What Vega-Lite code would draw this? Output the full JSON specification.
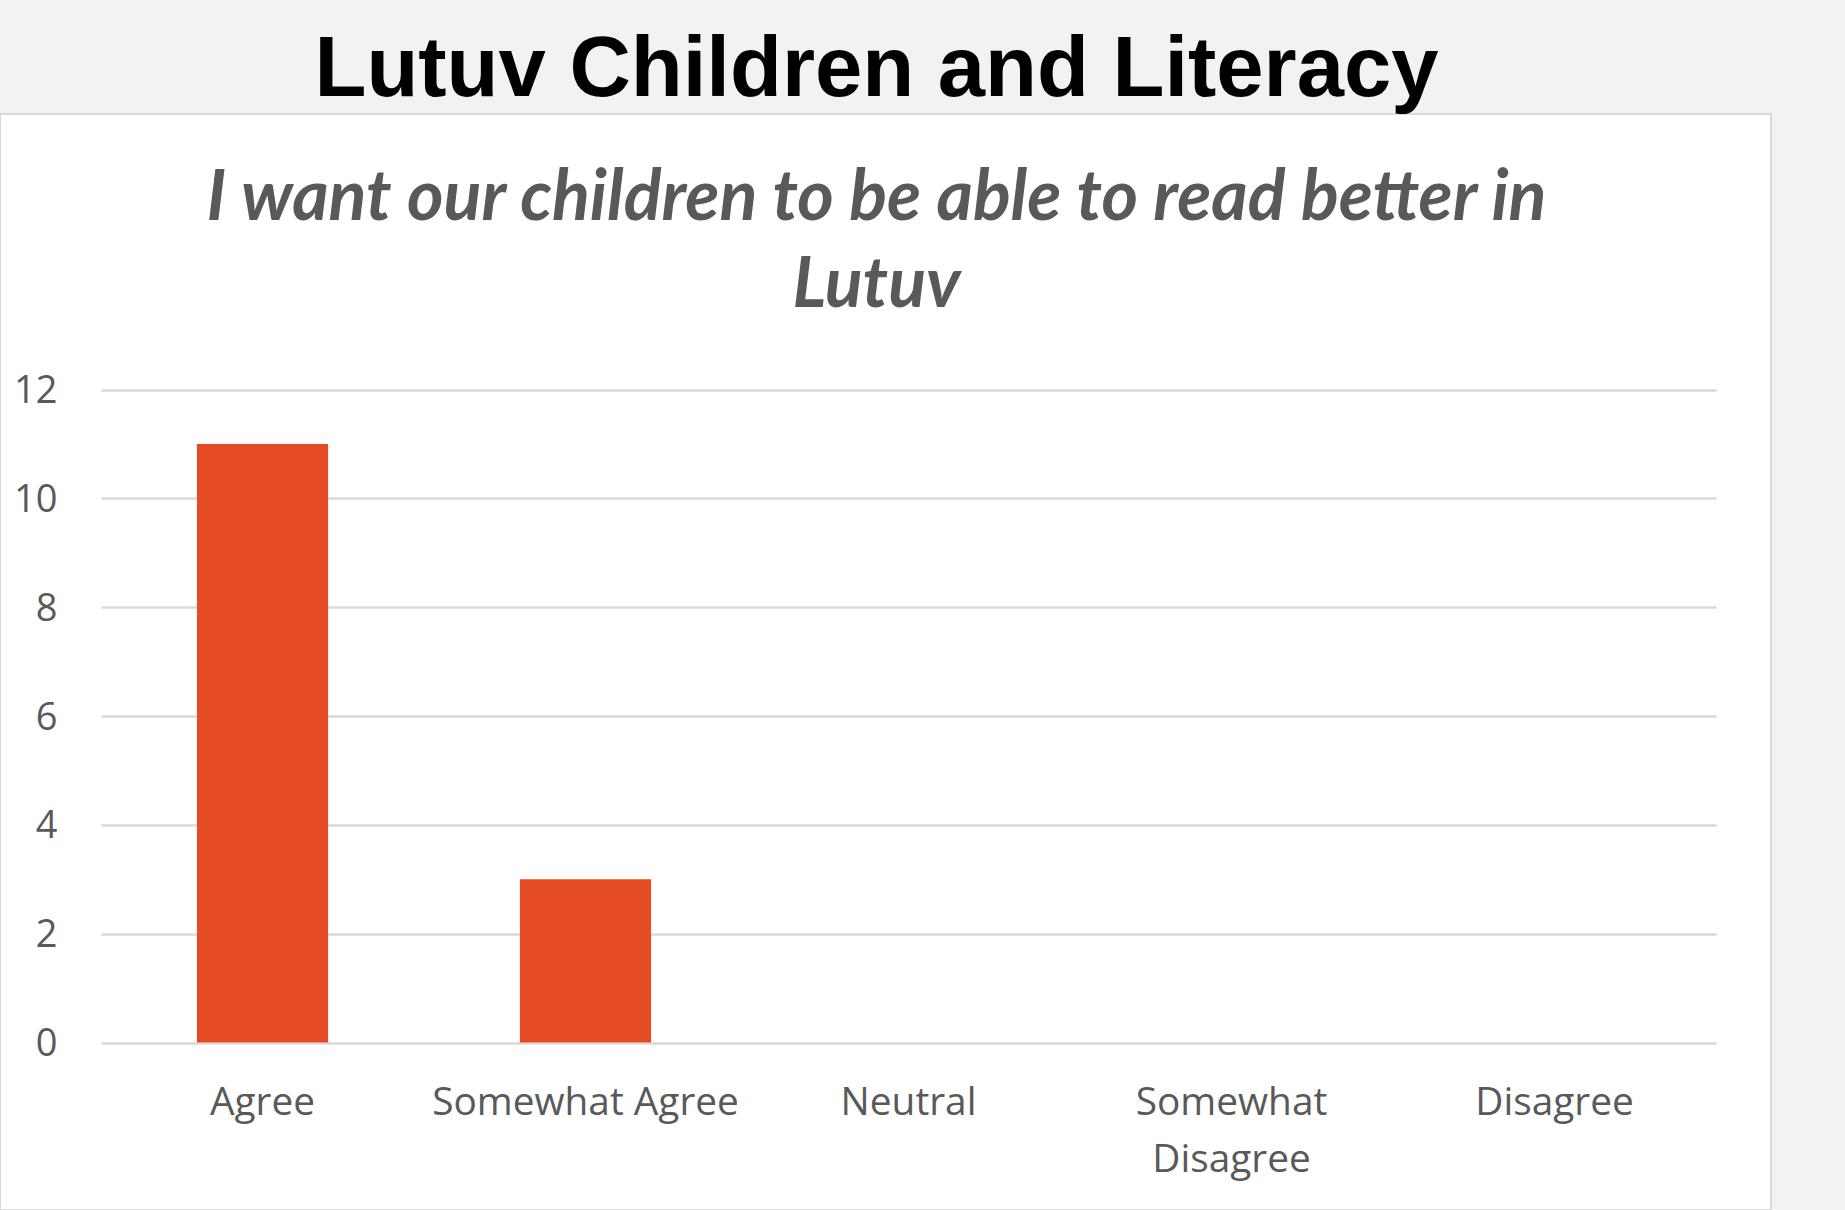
{
  "$schema": "https://vega.github.io/schema/vega-lite/v6.json",
  "autosize": {"type": "none"},
  "padding": {"top": 114, "left": 0, "right": 74, "bottom": 0},
  "width": 1771,
  "height": 1096,
  "background": "#f2f2f2",
  "view": {"fill": "#ffffff", "stroke": "#d9d9d9", "strokeWidth": 2},
  "title": {
    "text": "Lutuv Children and Literacy",
    "subtitle": ["I want our children to be able to read better in", "Lutuv"],
    "anchor": "middle",
    "frame": "group",
    "offset": -208,
    "dx": -9,
    "font": "Liberation Sans",
    "fontSize": 85,
    "fontWeight": "bold",
    "color": "#000000",
    "subtitleFont": "Lato",
    "subtitleFontSize": 70,
    "subtitleFontWeight": "bold",
    "subtitleFontStyle": "italic",
    "subtitleColor": "#595959",
    "subtitleLineHeight": 87,
    "subtitlePadding": 51
  },
  "data": {
    "values": [
      {"response": "Agree", "count": 11},
      {"response": "Somewhat Agree", "count": 3},
      {"response": "Neutral", "count": 0},
      {"response": "Somewhat Disagree", "count": 0},
      {"response": "Disagree", "count": 0}
    ]
  },
  "mark": {"type": "bar", "color": "#E64C24"},
  "encoding": {
    "x": {
      "field": "response",
      "type": "nominal",
      "sort": null,
      "scale": {"range": [101, 1716], "paddingInner": 0.594, "paddingOuter": 0.297},
      "axis": {
        "title": null,
        "orient": "bottom",
        "offset": -167.5,
        "domain": false,
        "ticks": false,
        "grid": false,
        "labelAngle": 0,
        "labelFont": "Open Sans",
        "labelFontSize": 38.8,
        "labelColor": "#595959",
        "labelPadding": 41,
        "labelBaseline": "top",
        "labelLineHeight": 56.5,
        "labelLimit": 500,
        "labelExpr": "datum.label == 'Somewhat Disagree' ? ['Somewhat', 'Disagree'] : datum.label"
      }
    },
    "y": {
      "field": "count",
      "type": "quantitative",
      "scale": {"domain": [0, 12], "range": [928.5, 275.5], "nice": false, "zero": true},
      "axis": {
        "title": null,
        "offset": -101,
        "values": [0, 2, 4, 6, 8, 10, 12],
        "domain": false,
        "ticks": false,
        "grid": true,
        "gridColor": "#d9d9d9",
        "gridWidth": 2.5,
        "labelFont": "Open Sans",
        "labelFontSize": 38,
        "labelColor": "#595959",
        "labelPadding": 44,
        "labelOffset": 2,
        "format": "d"
      }
    }
  }
}
